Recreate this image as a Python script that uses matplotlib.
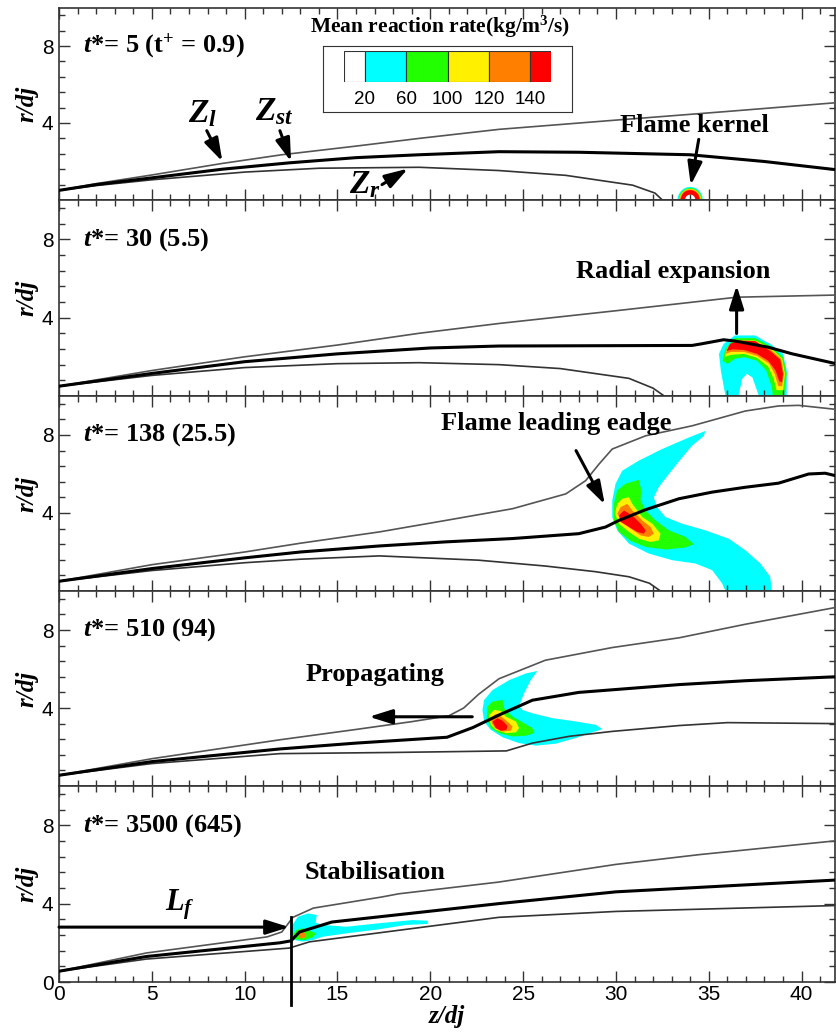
import numpy as np
import matplotlib
matplotlib.use("Agg")
import matplotlib.pyplot as plt
from matplotlib.patches import Wedge
from matplotlib.ticker import MultipleLocator

plt.rcParams['font.family'] = ['Liberation Sans', 'DejaVu Sans']
plt.rcParams['mathtext.fontset'] = 'custom'
plt.rcParams['mathtext.rm'] = 'Liberation Serif:bold'
plt.rcParams['mathtext.it'] = 'Liberation Serif:italic:bold'
plt.rcParams['mathtext.bf'] = 'Liberation Serif:bold'

# reaction-rate levels (legend)
level_labels = ["20", "60", "100", "120", "140"]
level_colors = ["#FFFFFF", "#00FFFF", "#22FF00", "#FFF000", "#FF7F00", "#FF0000"]

panel_titles = [r"$t$*= 5 (t$^{+}$ = 0.9)", r"$t$*= 30 (5.5)", r"$t$*= 138 (25.5)",
                r"$t$*= 510 (94)", r"$t$*= 3500 (645)"]

# mixture-fraction iso-lines (z/dj, r/dj) for each panel
p1_zl = [(0, .5), (2, .85), (5, 1.3), (8.8, 1.9), (12, 2.35), (16, 2.8), (19.4, 3.2), (23.7, 3.67),
         (30, 4.15), (36, 4.6), (41.8, 5.05)]
p1_zst = [(0, .5), (2, .8), (5, 1.15), (8.8, 1.6), (12.4, 1.93), (16, 2.2), (19.4, 2.35), (23.7, 2.51),
          (28, 2.48), (34, 2.35), (38, 2.0), (41.8, 1.58)]
p1_zr = [(0, .5), (2, .75), (5, 1.05), (10, 1.45), (14, 1.65), (19.4, 1.7), (23.7, 1.53), (27.3, 1.28),
         (30.9, .77), (32.1, .36), (32.5, 0)]

p2_zl = [(0, .5), (5, 1.3), (10, 2.0), (15, 2.6), (19.4, 3.2), (23.7, 3.7), (30, 4.35), (36.5, 5.04),
         (41.8, 5.15)]
p2_zst = [(0, .5), (5, 1.15), (10, 1.75), (15, 2.15), (20, 2.45), (23.7, 2.55), (34.1, 2.58), (34.6, 2.66),
          (35.8, 2.87), (36.45, 2.8), (38.2, 2.49), (39.5, 2.15), (41.8, 1.66)]
p2_zr = [(0, .5), (5, 1.05), (10, 1.45), (15, 1.65), (19.4, 1.7), (23.7, 1.6), (27, 1.4), (30.7, .9),
         (32, .4), (32.6, 0)]

p3_zl = [(0, .5), (5, 1.35), (10, 2.0), (13, 2.45), (17.26, 3.03), (20.84, 3.62), (24.43, 4.22),
         (27.3, 4.98), (28.37, 5.66), (29.09, 6.51), (29.8, 7.28), (31.6, 7.96), (34.1, 8.47),
         (36.97, 9.23), (38.76, 9.49), (39.84, 9.52), (41.8, 9.32)]
p3_zst = [(0, .5), (5, 1.15), (10, 1.7), (13, 2.0), (17.26, 2.31), (20.84, 2.52), (24.43, 2.69), (28, 2.94),
          (29.44, 3.28), (30.16, 3.62), (31.6, 4.17), (33.39, 4.73), (35.18, 5.07), (36.97, 5.32),
          (38.76, 5.53), (40.38, 6.0), (41.27, 6.04), (41.8, 5.92)]
p3_zr = [(0, .5), (5, 1.05), (10, 1.45), (13, 1.63), (17.26, 1.8), (22.6, 1.58), (26.2, 1.28), (28.9, .99),
         (30.7, .73), (31.8, .4), (32.4, 0)]

p4_zl = [(0, .55), (5, 1.4), (11.9, 2.37), (16, 2.9), (19, 3.3), (21.0, 3.6), (21.8, 4.0), (22.6, 4.7),
         (23.7, 5.5), (26.2, 6.45), (29.8, 7.1), (33.4, 7.6), (37, 8.3), (41.8, 9.15)]
p4_zst = [(0, .55), (5, 1.25), (11.9, 1.9), (16, 2.2), (20.9, 2.5), (22.3, 3.0), (23.7, 3.64), (25.5, 4.4),
          (28, 4.8), (33.4, 5.2), (37, 5.4), (41.8, 5.6)]
p4_zr = [(0, .55), (5, 1.15), (11.9, 1.66), (18, 1.72), (24.1, 1.8), (25.5, 2.2), (27.5, 2.55), (29.8, 2.8),
         (33.4, 3.1), (36, 3.25), (41.8, 3.2)]

p5_zl = [(0, .55), (4.7, 1.48), (11.2, 2.3), (12.0, 2.55), (12.6, 3.3), (13.7, 3.77), (17.4, 4.34),
         (18.3, 4.5), (23.7, 5.1), (30, 6.0), (34.5, 6.5), (41.8, 7.2)]
p5_zst = [(0, .55), (4.7, 1.3), (11.9, 2.0), (12.5, 2.1), (12.95, 2.55), (14.7, 3.06), (23.7, 4.0),
          (30, 4.6), (41.8, 5.2)]
p5_zr = [(0, .55), (4.7, 1.17), (12.4, 1.73), (13.5, 2.05), (23.7, 3.3), (30, 3.6), (41.8, 3.9)]

# reaction-rate regions: (level index, outline)
kernel_center = 34.0
kernel_rings = [(1, .68), (2, .62), (3, .58), (4, .55), (5, .51), (0, .28)]

p2_blob = [
    (1, [(35.9, 0), (35.65, 1.3), (35.55, 2.15), (35.8, 2.66), (36.4, 3.09), (37.5, 3.09), (38.4, 2.6),
         (39.0, 2.15), (39.2, 1.3), (39.2, 0)]),
    (0, [(36.6, 0), (36.8, .87), (37.05, 1.13), (37.35, .95), (37.7, 0)]),
    (2, [(35.75, 1.8), (35.9, 2.4), (36.4, 2.95), (37.5, 2.95), (38.4, 2.5), (39.0, 1.98), (39.2, 1.13),
         (39.05, 0), (38.45, 0), (38.4, .45), (38.1, 1.3), (37.6, 1.8), (36.9, 1.98), (36.4, 1.9), (36.0, 1.64)]),
    (3, [(35.85, 2.0), (36.0, 2.45), (36.43, 2.83), (37.5, 2.83), (38.4, 2.4), (38.95, 1.9), (39.1, 1.13),
         (39.0, .3), (38.65, .3), (38.5, .87), (38.2, 1.5), (37.6, 1.95), (36.9, 2.15), (36.2, 2.1)]),
    (4, [(35.9, 2.15), (36.1, 2.55), (36.5, 2.8), (37.5, 2.8), (38.35, 2.35), (38.9, 1.9), (39.05, 1.13),
         (38.95, .5), (38.75, .5), (38.55, 1.13), (38.25, 1.65), (37.6, 2.05), (36.9, 2.25), (36.2, 2.25)]),
    (5, [(35.95, 2.3), (36.15, 2.66), (36.6, 2.83), (37.5, 2.8), (38.3, 2.3), (38.85, 1.85), (39.0, 1.13),
         (38.95, .7), (38.8, .75), (38.6, 1.3), (38.2, 1.8), (37.6, 2.15), (36.9, 2.35), (36.3, 2.38)]),
]

p3_blob = [
    (1, [(34.82, 8.21), (33.92, 7.87), (32.49, 7.28), (31.24, 6.69), (30.34, 6.17), (29.98, 5.5), (29.8, 4.64),
         (29.8, 3.79), (30.07, 3.11), (30.7, 2.43), (31.77, 1.92), (33.03, 1.58), (34.28, 1.41), (35.18, 1.07),
         (35.72, .39), (35.9, 0), (38.4, 0), (38.31, .73), (37.78, 1.41), (36.97, 2.09), (36.08, 2.68),
         (34.82, 3.11), (33.57, 3.45), (32.67, 3.79), (32.22, 4.3), (32.04, 4.8), (32.31, 5.33), (32.85, 6.0),
         (33.57, 6.85), (34.1, 7.45), (34.73, 7.95)]),
    (2, [(29.89, 4.47), (30.07, 5.16), (30.52, 5.5), (31.24, 5.7), (31.36, 5.16), (31.33, 4.64), (31.6, 4.13),
         (32.13, 3.62), (32.85, 3.11), (33.75, 2.77), (34.19, 2.4), (33.75, 2.23), (32.67, 2.13), (31.6, 2.26),
         (30.79, 2.57), (30.16, 3.03), (29.89, 3.62)]),
    (3, [(29.95, 3.96), (30.07, 4.47), (30.34, 4.73), (30.7, 4.81), (30.88, 4.47), (31.42, 3.79), (31.96, 3.45),
         (32.4, 2.94), (32.31, 2.6), (31.87, 2.51), (31.24, 2.68), (30.7, 3.03), (30.16, 3.45)]),
    (4, [(30.07, 3.96), (30.25, 4.3), (30.61, 4.47), (30.88, 4.13), (31.42, 3.62), (31.87, 3.28), (32.04, 2.94),
         (31.77, 2.77), (31.33, 2.85), (30.79, 3.2), (30.34, 3.54)]),
    (5, [(30.16, 3.87), (30.43, 4.13), (30.88, 3.87), (31.33, 3.45), (31.6, 3.11), (31.51, 2.94), (31.15, 3.03),
         (30.7, 3.28), (30.25, 3.54)]),
]

p4_blob = [
    (1, [(25.77, 5.9), (25.14, 5.77), (24.25, 5.43), (23.35, 4.92), (22.9, 4.41), (22.81, 3.9), (22.9, 3.3),
         (23.26, 2.88), (23.89, 2.5), (24.78, 2.2), (25.68, 2.07), (26.76, 2.17), (27.84, 2.46), (28.73, 2.75),
         (29.27, 2.92), (28.91, 3.14), (27.84, 3.31), (26.58, 3.48), (25.5, 3.73), (24.96, 3.9), (24.78, 4.11),
         (25.05, 4.75), (25.41, 5.43)]),
    (2, [(23.08, 4.07), (23.35, 4.33), (23.89, 4.41), (23.98, 3.98), (24.43, 3.56), (25.05, 3.22), (25.5, 2.97),
         (25.59, 2.71), (25.14, 2.58), (24.43, 2.54), (23.71, 2.71), (23.26, 2.97), (23.04, 3.47)]),
    (3, [(23.17, 3.64), (23.44, 3.9), (23.8, 3.85), (24.07, 3.56), (24.61, 3.31), (24.78, 2.97), (24.61, 2.75),
         (24.07, 2.71), (23.53, 2.88), (23.26, 3.14)]),
    (4, [(23.26, 3.47), (23.53, 3.69), (23.8, 3.58), (24.16, 3.3), (24.43, 3.05), (24.34, 2.84), (23.89, 2.79),
         (23.49, 2.97), (23.31, 3.22)]),
    (5, [(23.35, 3.3), (23.62, 3.47), (23.89, 3.35), (24.16, 3.08), (24.1, 2.88), (23.8, 2.83), (23.53, 2.97)]),
]

p5_blob = [
    (1, [(12.51, 2.82), (12.87, 3.33), (13.4, 3.5), (13.89, 3.42), (13.82, 3.03), (14.21, 2.91), (15.47, 2.82),
         (17.26, 3.0), (19.05, 3.16), (19.86, 3.13), (19.86, 2.96), (18.69, 2.91), (17.26, 2.69), (15.47, 2.48),
         (14.21, 2.31), (13.67, 2.14), (13.13, 2.06), (12.69, 2.14), (12.51, 2.48)]),
    (2, [(12.6, 2.4), (12.78, 2.65), (13.13, 2.74), (13.49, 2.62), (13.85, 2.48), (13.67, 2.28), (13.22, 2.14),
         (12.78, 2.17)]),
    (4, [(12.87, 2.48), (13.04, 2.57), (13.31, 2.48), (13.28, 2.28), (13.0, 2.23)]),
]

lf_z = 12.5
lf_r = 2.8

lines = [(p1_zl, p1_zst, p1_zr), (p2_zl, p2_zst, p2_zr), (p3_zl, p3_zst, p3_zr),
         (p4_zl, p4_zst, p4_zr), (p5_zl, p5_zst, p5_zr)]
blobs = [None, p2_blob, p3_blob, p4_blob, p5_blob]

W, H = 836, 1032
fig = plt.figure(figsize=(W / 100, H / 100), dpi=100)
edges = [7.5, 200, 396, 591, 786, 982]
serif = dict(family='Liberation Serif', weight='bold')
arrow = dict(arrowstyle='-|>,head_length=0.7,head_width=0.22', color='k', lw=2.2, mutation_scale=20,
             shrinkA=0, shrinkB=0)

axes = []
for k in range(5):
    top, bot = edges[k], edges[k + 1]
    ax = fig.add_axes([59 / W, 1 - bot / H, (835 - 59) / W, (bot - top) / H])
    axes.append(ax)
    ax.set_xlim(0, 41.8)
    ax.set_ylim(0, 10)
    ax.xaxis.set_major_locator(MultipleLocator(5))
    ax.xaxis.set_minor_locator(MultipleLocator(1))
    ax.yaxis.set_major_locator(MultipleLocator(4))
    ax.yaxis.set_minor_locator(MultipleLocator(0.8))
    ax.tick_params(which='both', direction='in', top=True, right=True, color='#333333', width=1)
    ax.tick_params(which='major', length=8, labelsize=15, pad=4)
    ax.tick_params(which='minor', length=4)
    for s in ax.spines.values():
        s.set_color('#333333')
        s.set_linewidth(1.2)
    if k < 4:
        ax.set_xticklabels([])
        ax.set_yticks([4, 8])
    else:
        ax.set_yticks([0, 4, 8])
        ax.tick_params(axis='x', which='major', pad=2)

    blob = blobs[k]
    if blob:
        for lev, poly in blob:
            zs, rs = zip(*poly)
            ax.fill(zs, rs, color=level_colors[lev], lw=0, zorder=1)
    if k == 0:
        for lev, rad in kernel_rings:
            ax.add_patch(Wedge((kernel_center, 0), rad, 0, 180, color=level_colors[lev], lw=0, zorder=1))

    zl, zst, zr = lines[k]
    for pts, c, lw in [(zl, '#555555', 1.2), (zr, '#333333', 1.2), (zst, 'black', 2.2)]:
        zs, rs = zip(*pts)
        ax.plot(zs, rs, color=c, lw=lw, zorder=3)

    ax.text(1.29, 8.0, panel_titles[k], fontsize=19, ha='left', va='center', **serif)
    ax.text(-32 / 776, 0.5, 'r/dj', transform=ax.transAxes, rotation=90, fontsize=18, ha='center',
            va='center', family='Liberation Serif', weight='bold', style='italic')

ax1, ax2, ax3, ax4, ax5 = axes

# panel 1 annotations
ax1.text(7.74, 4.5, r"$Z_l$", fontsize=24, ha='center', va='center')
ax1.annotate('', xy=(8.8, 2.0), xytext=(7.96, 3.6), arrowprops=arrow)
ax1.text(11.6, 4.6, r"$Z_{st}$", fontsize=24, ha='center', va='center')
ax1.annotate('', xy=(12.5, 2.0), xytext=(11.9, 3.6), arrowprops=arrow)
ax1.text(16.5, 0.8, r"$Z_r$", fontsize=24, ha='center', va='center')
ax1.annotate('', xy=(18.8, 1.63), xytext=(17.4, 0.8), arrowprops=arrow)
ax1.text(34.2, 3.85, "Flame kernel", fontsize=19, ha='center', va='center', **serif)
ax1.annotate('', xy=(34.03, 0.77), xytext=(34.46, 3.15), arrowprops=arrow)

# panel 2
ax2.text(33.1, 6.35, "Radial expansion", fontsize=19, ha='center', va='center', **serif)
ax2.annotate('', xy=(36.5, 5.64), xytext=(36.5, 3.19), arrowprops=arrow)

# panel 3
ax3.text(26.8, 8.57, "Flame leading eadge", fontsize=19, ha='center', va='center', **serif)
ax3.annotate('', xy=(29.4, 4.44), xytext=(27.85, 7.2), arrowprops=arrow)

# panel 4
ax4.text(17.0, 5.7, "Propagating", fontsize=19, ha='center', va='center', **serif)
ax4.annotate('', xy=(16.7, 3.55), xytext=(22.26, 3.55), arrowprops=arrow)

# panel 5
ax5.text(17.0, 5.6, "Stabilisation", fontsize=19, ha='center', va='center', **serif)
ax5.text(6.5, 3.95, r"$L_f$", fontsize=22, ha='center', va='center')
ax5.annotate('', xy=(lf_z - 0.1, lf_r), xytext=(0, lf_r), arrowprops=arrow)
ax5.plot([lf_z, lf_z], [3.3, -1.18], color='k', lw=2, clip_on=False, zorder=4)
ax5.set_xlabel('z/dj', fontsize=18, family='Liberation Serif', weight='bold', style='italic', labelpad=1)

# reaction-rate legend box
fig.text(440 / W, 1 - 27 / H, r"Mean reaction rate(kg/m$^{3}$/s)", fontsize=15.5, ha='center', va='center',
         **serif)
box = fig.add_axes([323 / W, 1 - 112 / H, (572 - 323) / W, (112 - 46) / H])
box.set_xticks([])
box.set_yticks([])
for s in box.spines.values():
    s.set_color('#333333')
cb = fig.add_axes([344 / W, 1 - 82 / H, (551 - 344) / W, (82 - 51) / H])
widths = [0.5, 1, 1, 1, 1, 0.5]
lefts = np.concatenate([[0], np.cumsum(widths)[:-1]])
cb.bar(lefts, [1] * 6, width=widths, align='edge', color=level_colors, edgecolor='#333333', lw=0.8)
cb.set_xlim(0, 5)
cb.set_ylim(0, 1)
cb.axis('off')
for i, lab in enumerate(level_labels):
    fig.text((344 + (i + 0.5) * 41.4) / W, 1 - 99 / H, lab, fontsize=13.5, ha='center', va='center')

fig.savefig('out.png', dpi=100)
